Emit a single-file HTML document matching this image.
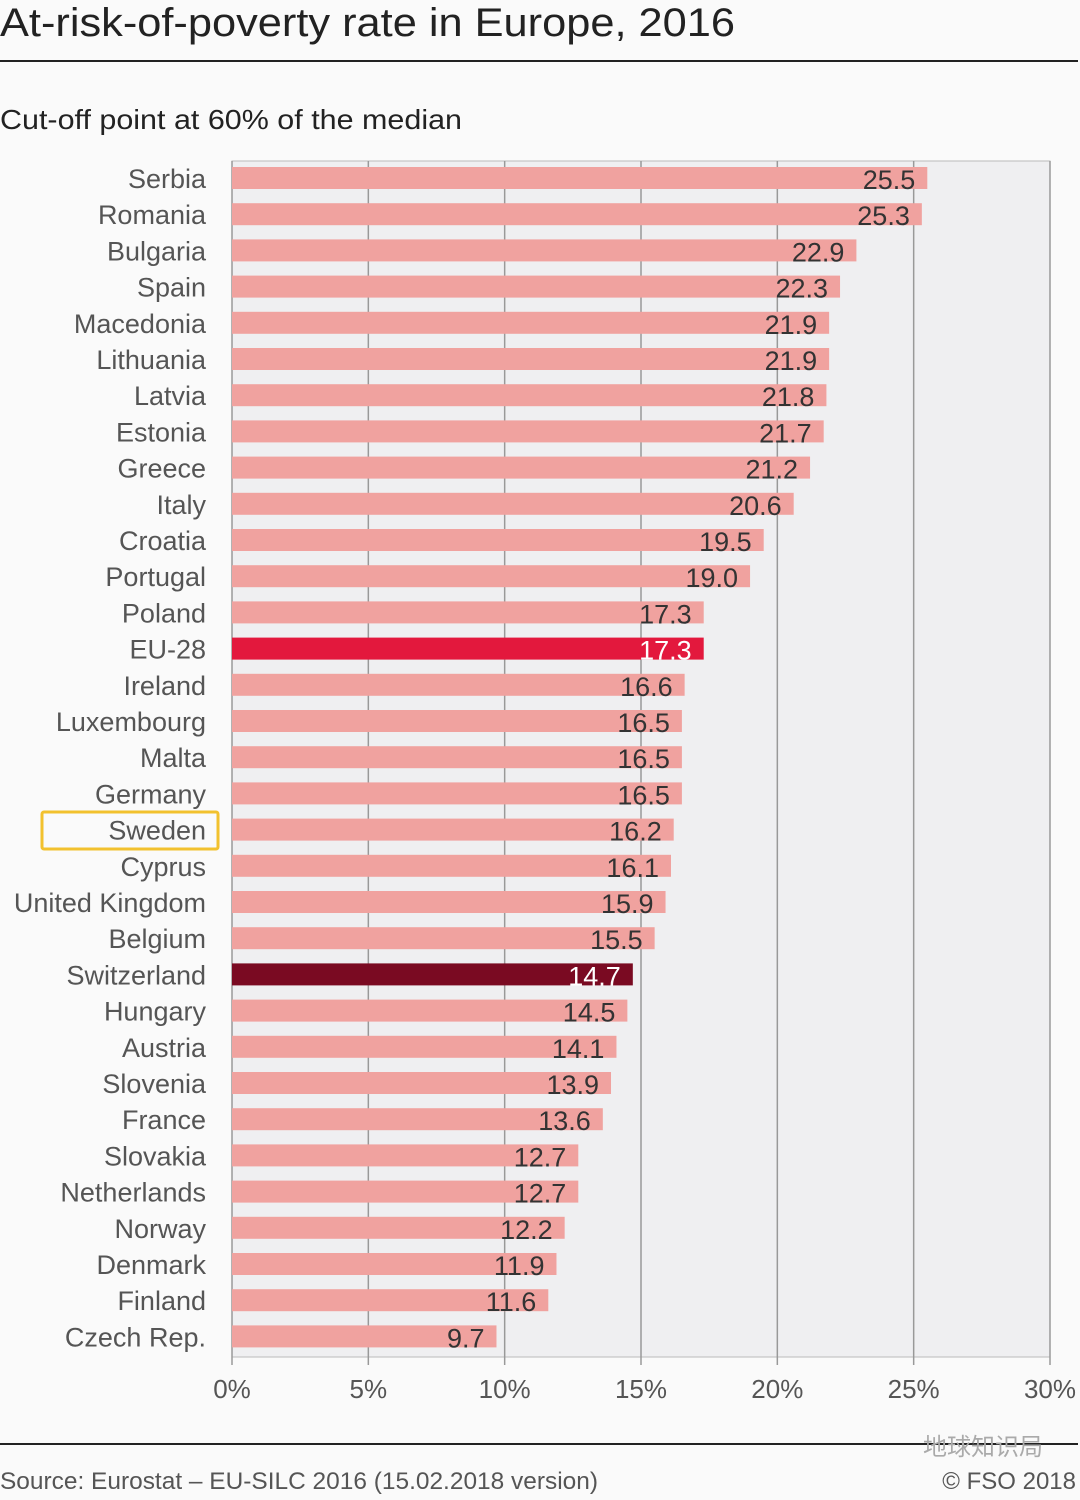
<!DOCTYPE html>
<html><head><meta charset="utf-8"><style>
body{margin:0;background:#fafafa;}
svg text{font-family:"Liberation Sans","Noto Sans CJK SC",sans-serif;}
</style></head><body>
<svg id="c" width="1080" height="1495" xmlns="http://www.w3.org/2000/svg">
<rect width="1080" height="1495" fill="#fafafa"/>
<text x="0" y="36" font-size="40" fill="#222" textLength="735" lengthAdjust="spacingAndGlyphs">At-risk-of-poverty rate in Europe, 2016</text>
<line x1="0" y1="61" x2="1078" y2="61" stroke="#222" stroke-width="2"/>
<text x="0" y="129" font-size="28" fill="#222" textLength="462" lengthAdjust="spacingAndGlyphs">Cut-off point at 60% of the median</text>
<rect x="232" y="161" width="818" height="1196" fill="#efeff1" stroke="#bbb"/>
<g id="grid"></g><g id="bars"></g>
<rect x="42" y="812" width="176" height="37" fill="none" stroke="#f2c12e" stroke-width="3" rx="2"/>
<line x1="0" y1="1444" x2="1078" y2="1444" stroke="#222" stroke-width="2"/>
<text x="0" y="1489" font-size="24" fill="#555" textLength="598" lengthAdjust="spacingAndGlyphs">Source: Eurostat – EU-SILC 2016 (15.02.2018 version)</text>
<text x="1076" y="1489" font-size="24" fill="#555" text-anchor="end">© FSO 2018</text>
<text x="1043" y="1455" font-size="24" fill="#aaa" text-anchor="end">地球知识局</text>
</svg>
<script>
const countries=["Serbia","Romania","Bulgaria","Spain","Macedonia","Lithuania","Latvia","Estonia","Greece","Italy","Croatia","Portugal","Poland","EU-28","Ireland","Luxembourg","Malta","Germany","Sweden","Cyprus","United Kingdom","Belgium","Switzerland","Hungary","Austria","Slovenia","France","Slovakia","Netherlands","Norway","Denmark","Finland","Czech Rep."];
const values=[25.5,25.3,22.9,22.3,21.9,21.9,21.8,21.7,21.2,20.6,19.5,19.0,17.3,17.3,16.6,16.5,16.5,16.5,16.2,16.1,15.9,15.5,14.7,14.5,14.1,13.9,13.6,12.7,12.7,12.2,11.9,11.6,9.7];
const ticks=[0,5,10,15,20,25,30];
const NS="http://www.w3.org/2000/svg";
const x=v=>232+v*(818/30);
const y=i=>178+i*36.2;
function mk(t,a,p){const e=document.createElementNS(NS,t);for(const k in a)e.setAttribute(k,a[k]);p.appendChild(e);return e;}
const g=document.getElementById('grid'),b=document.getElementById('bars');
ticks.forEach(t=>{
 const l=mk('line',{x1:x(t),x2:x(t),y1:161,y2:1365,stroke:'#999','stroke-width':1.5},g);
 
 
 const tx=mk('text',{x:x(t),y:1398,'font-size':26,fill:'#555','text-anchor':t===30?'end':'middle'},g);
 if(t===30)tx.setAttribute('x',1076);
 tx.textContent=t+'%';
 
 
});
countries.forEach((c,i)=>{
 const col=c==='EU-28'?'#e3183d':c==='Switzerland'?'#7a0a22':'#f0a29f';
 const r=mk('rect',{x:232,y:y(i)-11,width:x(values[i])-232,height:22,fill:col},b);
 
 
 const lb=mk('text',{x:206,y:y(i)+10,'font-size':27,fill:'#555','text-anchor':'end'},b);
 lb.textContent=c;
 
 
 const v=mk('text',{x:x(values[i])-12,y:y(i)+11,'font-size':27,fill:(c==='EU-28'||c==='Switzerland')?'#fff':'#333','text-anchor':'end'},b);
 v.textContent=values[i].toFixed(1);
 
 
});
</script>
</body></html>
